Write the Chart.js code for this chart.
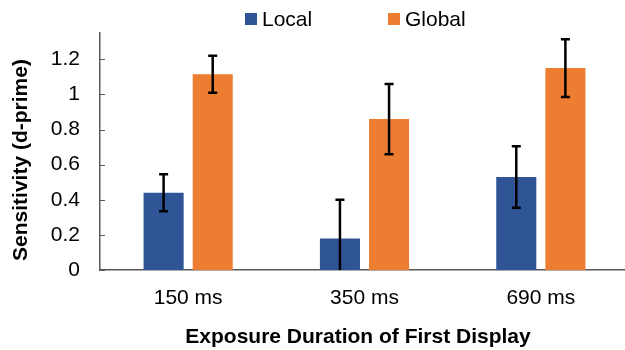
<!DOCTYPE html>
<html>
<head>
<meta charset="utf-8">
<script src="https://cdn.jsdelivr.net/npm/chart.js@4"></script>
<style>
  html, body { margin: 0; padding: 0; background: #fff; overflow: hidden; }
  #wrap { width: 625px; height: 350px; overflow: hidden; }
  #box { width: 630px; height: 350px; position: relative; }
</style>
</head>
<body>
<div id="wrap"><div id="box"><canvas id="c"></canvas></div></div>
<script>
// Sensitivity by exposure duration, local vs global condition
const categories = ['150 ms', '350 ms', '690 ms'];
const localValues = [0.44, 0.18, 0.53];
const localErrors = [0.105, 0.22, 0.175];
const globalValues = [1.115, 0.86, 1.15];
const globalErrors = [0.105, 0.2, 0.165];
const yTicks = [0, 0.2, 0.4, 0.6, 0.8, 1, 1.2];
const xTitle = 'Exposure Duration of First Display';
const yTitle = 'Sensitivity (d-prime)';

const BLUE = '#2F5597';
const ORANGE = '#ED7D31';
const FONT = '"Liberation Sans", Arial, sans-serif';

// Error bars with caps, drawn on top of each bar
const errorBars = {
  id: 'errorBars',
  afterDatasetsDraw(chart) {
    const ctx = chart.ctx;
    const y = chart.scales.y;
    const area = chart.chartArea;
    ctx.save();
    ctx.beginPath();
    ctx.rect(area.left, area.top - 10, area.right - area.left, area.bottom - area.top + 10);
    ctx.clip();
    ctx.strokeStyle = '#000';
    ctx.lineWidth = 2.5;
    chart.data.datasets.forEach((ds, i) => {
      const meta = chart.getDatasetMeta(i);
      meta.data.forEach((bar, j) => {
        const v = ds.data[j], e = ds.errors[j];
        const yt = y.getPixelForValue(v + e);
        const yb = y.getPixelForValue(v - e);
        const x = bar.x, half = 4.5;
        ctx.beginPath();
        ctx.moveTo(x, yt); ctx.lineTo(x, yb);
        ctx.moveTo(x - half, yt); ctx.lineTo(x + half, yt);
        ctx.moveTo(x - half, yb); ctx.lineTo(x + half, yb);
        ctx.stroke();
      });
    });
    ctx.restore();
  }
};

// Short tick marks pointing into the plot from the value axis
const innerTicks = {
  id: 'innerTicks',
  afterDraw(chart) {
    const ctx = chart.ctx;
    const y = chart.scales.y;
    const x0 = chart.chartArea.left;
    ctx.save();
    ctx.strokeStyle = '#595959';
    ctx.lineWidth = 1;
    yTicks.forEach(t => {
      const py = Math.round(y.getPixelForValue(t)) + 0.5;
      ctx.beginPath();
      ctx.moveTo(x0, py); ctx.lineTo(x0 + 5, py);
      ctx.stroke();
    });
    ctx.restore();
  }
};

// Legend row above the plot and the two axis titles
const annotations = {
  id: 'annotations',
  afterDraw(chart) {
    const ctx = chart.ctx;
    const items = [
      { x: 245, label: chart.data.datasets[0].label, color: BLUE },
      { x: 388, label: chart.data.datasets[1].label, color: ORANGE }
    ];
    ctx.save();
    ctx.font = '21px ' + FONT;
    ctx.textBaseline = 'middle';
    ctx.textAlign = 'left';
    items.forEach(it => {
      ctx.fillStyle = it.color;
      ctx.fillRect(it.x, 13, 12, 12);
      ctx.fillStyle = '#000';
      ctx.fillText(it.label, it.x + 17, 20.5);
    });

    ctx.font = 'bold 21px ' + FONT;
    ctx.textAlign = 'center';
    ctx.fillText(xTitle, 358, 337);
    ctx.translate(21, 160);
    ctx.rotate(-Math.PI / 2);
    ctx.fillText(yTitle, 0, 0);
    ctx.restore();
  }
};

new Chart(document.getElementById('c'), {
  type: 'bar',
  data: {
    labels: categories,
    datasets: [
      { label: 'Local', data: localValues, errors: localErrors, backgroundColor: BLUE,
        categoryPercentage: 0.557, barPercentage: 0.816 },
      { label: 'Global', data: globalValues, errors: globalErrors, backgroundColor: ORANGE,
        categoryPercentage: 0.557, barPercentage: 0.816 }
    ]
  },
  options: {
    responsive: true,
    maintainAspectRatio: false,
    animation: false,
    layout: { padding: { top: 33, right: 1, left: 0, bottom: 0 } },
    plugins: { legend: { display: false }, tooltip: { enabled: false } },
    scales: {
      x: {
        grid: { display: false, drawTicks: false },
        border: { display: true, color: '#595959', width: 1.5 },
        ticks: { color: '#000', font: { family: FONT, size: 21 }, padding: 16 },
        afterFit(s) { s.height = 80; }
      },
      y: {
        min: 0, max: 1.35,
        afterBuildTicks(s) { s.ticks = yTicks.map(v => ({ value: v })); },
        grid: { display: false, drawTicks: false },
        border: { display: true, color: '#595959', width: 1.5 },
        ticks: { color: '#000', font: { family: FONT, size: 21 }, padding: 20,
                 callback: v => String(Math.round(v * 10) / 10) },
        afterFit(s) { s.width = 100; }
      }
    }
  },
  plugins: [errorBars, innerTicks, annotations]
});
</script>
</body>
</html>
